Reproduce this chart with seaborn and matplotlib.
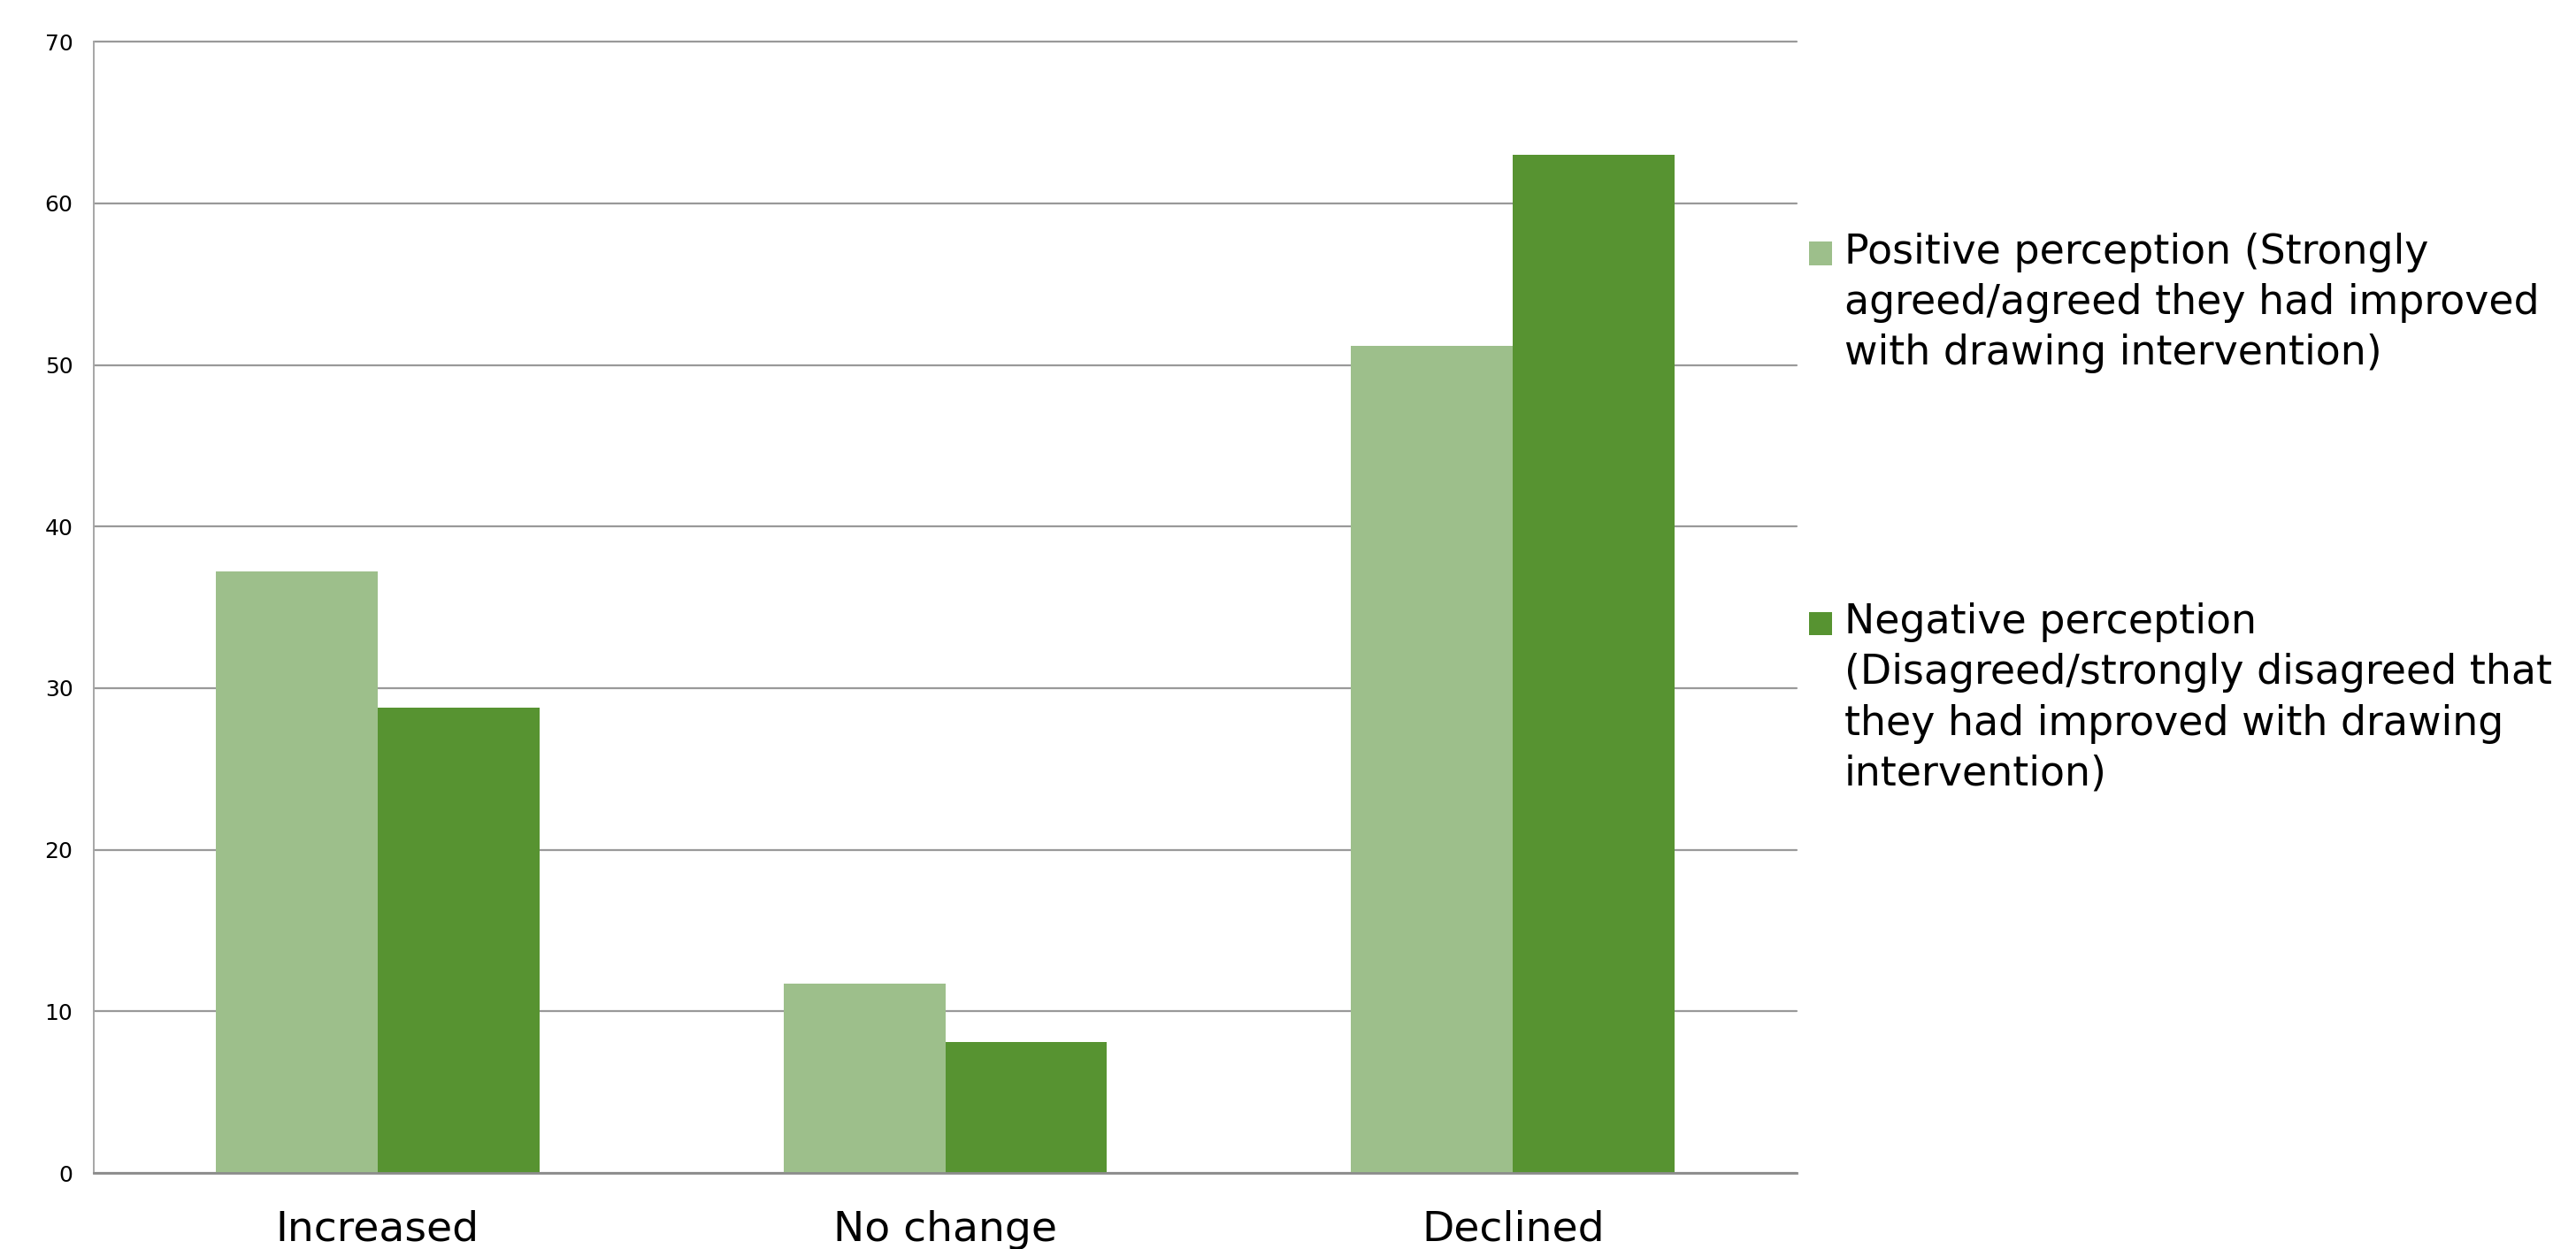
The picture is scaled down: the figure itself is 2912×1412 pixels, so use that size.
import pandas as pd
import matplotlib.pyplot as plt
import seaborn as sns

# values
categories = ["Increased", "No change", "Declined"]
positive = [37.2, 11.7, 51.2]
negative = [28.8, 8.1, 63.0]
series = ["Positive perception", "Negative perception"]
legend_labels = [
    "Positive perception (Strongly\nagreed/agreed they had improved\nwith drawing intervention)",
    "Negative perception\n(Disagreed/strongly disagreed that\nthey had improved with drawing\nintervention)",
]
colors = ["#9dbf8b", "#579331"]
yticks = [0, 10, 20, 30, 40, 50, 60, 70]

df = pd.DataFrame({
    "category": categories * 2,
    "value": positive + negative,
    "series": [series[0]] * len(categories) + [series[1]] * len(categories),
})

sns.set_style("white")
plt.rcParams["font.family"] = ["DejaVu Sans"]
plt.rcParams["text.color"] = "black"

fig = plt.figure(figsize=(29.12, 14.12), dpi=100)
ax = fig.add_axes([0.0364, 0.0609, 0.6611, 0.9056])

sns.barplot(data=df, x="category", y="value", hue="series", palette=colors,
            width=0.57, gap=0, linewidth=0, saturation=1, ax=ax)

ax.set_ylim(0, 70)
ax.set_xlim(-0.5, 2.5)
ax.set_yticks(yticks)
ax.set_xlabel("")
ax.set_ylabel("")
ax.yaxis.grid(True, color="#999999", linewidth=1.6)
ax.set_axisbelow(True)
for line in ax.get_ygridlines():
    line.set_clip_on(False)
ax.tick_params(axis="y", length=0, pad=17, labelsize=18, labelcolor="black")
ax.tick_params(axis="x", length=0, pad=30, labelsize=34, labelcolor="black")

for s in ["top", "right"]:
    ax.spines[s].set_visible(False)
ax.spines["left"].set_color("#a6a6a6")
ax.spines["left"].set_linewidth(1.4)
ax.spines["bottom"].set_color("#8c8c8c")
ax.spines["bottom"].set_linewidth(2.0)

# legend: blank lines in front keep the square on the first text line
handles, _ = ax.get_legend_handles_labels()
ax.get_legend().remove()
labels = ["\n" * (lab.count("\n")) + lab for lab in legend_labels]
leg = fig.legend(handles, labels, loc="upper left", bbox_to_anchor=(2045 / 2912, 0.895),
                 frameon=False, fontsize=33, handlelength=0.57, handleheight=0.5,
                 handletextpad=0.3, labelspacing=1.9, borderpad=0, borderaxespad=0)
for t in leg.get_texts():
    t.set_linespacing(1.35)
    t.set_color("black")

fig.savefig("out.png", dpi=100)
